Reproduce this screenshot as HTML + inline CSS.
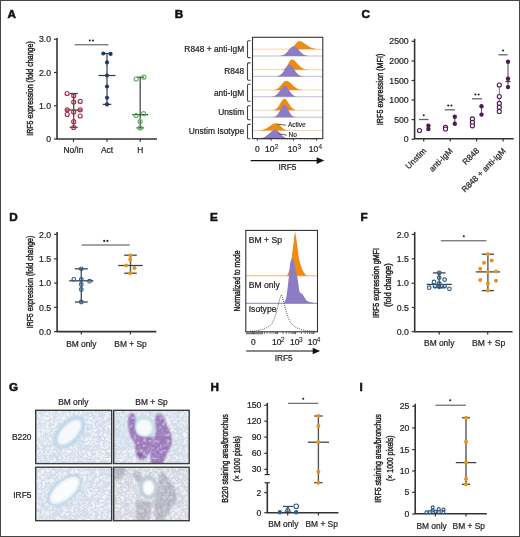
<!DOCTYPE html>
<html><head><meta charset="utf-8"><style>
html,body{margin:0;padding:0;background:#fff;}
body{width:520px;height:537px;overflow:hidden;position:relative;font-family:"Liberation Sans",sans-serif;}
.frame{position:absolute;left:0;top:0;width:518px;height:535px;border:1px solid #444;}
svg{position:absolute;left:0;top:0;display:block;will-change:transform;}
</style></head><body>
<svg width="520" height="537" viewBox="0 0 520 537" font-family="Liberation Sans, sans-serif">
<rect x="0" y="0" width="520" height="537" fill="#fff"/>
<text x="7.4" y="17.6" font-size="11.7" text-anchor="start" font-weight="bold" fill="#111" stroke="#111" stroke-width="0.55">A</text>
<text transform="translate(32.7,88.5) rotate(-90)" font-size="8.6" text-anchor="middle" fill="#231f20" stroke="#231f20" stroke-width="0.42" textLength="94.5" lengthAdjust="spacingAndGlyphs">IRF5 expression (fold change)</text>
<line x1="57" y1="38" x2="57" y2="139" stroke="#333" stroke-width="1.6" />
<line x1="54" y1="39.25" x2="57" y2="39.25" stroke="#333" stroke-width="1.2" />
<text x="51.1" y="42.35" font-size="8.7" text-anchor="end" font-weight="normal" fill="#231f20" stroke="#231f20" stroke-width="0.22" >3.0</text>
<line x1="54" y1="72.5" x2="57" y2="72.5" stroke="#333" stroke-width="1.2" />
<text x="51.1" y="75.6" font-size="8.7" text-anchor="end" font-weight="normal" fill="#231f20" stroke="#231f20" stroke-width="0.22" >2.0</text>
<line x1="54" y1="105.75" x2="57" y2="105.75" stroke="#333" stroke-width="1.2" />
<text x="51.1" y="108.85" font-size="8.7" text-anchor="end" font-weight="normal" fill="#231f20" stroke="#231f20" stroke-width="0.22" >1.0</text>
<line x1="54" y1="139" x2="57" y2="139" stroke="#333" stroke-width="1.2" />
<text x="51.1" y="142.1" font-size="8.7" text-anchor="end" font-weight="normal" fill="#231f20" stroke="#231f20" stroke-width="0.22" >0</text>
<line x1="56.5" y1="139" x2="157" y2="139" stroke="#333" stroke-width="1.6" />
<line x1="73.5" y1="139" x2="73.5" y2="141.8" stroke="#333" stroke-width="1.2" />
<line x1="107" y1="139" x2="107" y2="141.8" stroke="#333" stroke-width="1.2" />
<line x1="140.2" y1="139" x2="140.2" y2="141.8" stroke="#333" stroke-width="1.2" />
<text x="73.5" y="152.7" font-size="8.4" text-anchor="middle" font-weight="normal" fill="#231f20" stroke="#231f20" stroke-width="0.22" >No/In</text>
<text x="107" y="152.7" font-size="8.4" text-anchor="middle" font-weight="normal" fill="#231f20" stroke="#231f20" stroke-width="0.22" >Act</text>
<text x="140.2" y="152.7" font-size="8.4" text-anchor="middle" font-weight="normal" fill="#231f20" stroke="#231f20" stroke-width="0.22" >H</text>
<line x1="74.8" y1="44.8" x2="108.5" y2="44.8" stroke="#4a4a4a" stroke-width="1.0" />
<circle cx="89.80" cy="40.50" r="1.05" fill="#222"/>
<circle cx="93.00" cy="40.50" r="1.05" fill="#222"/>
<line x1="73.7" y1="93.5" x2="73.7" y2="127.3" stroke="#575757" stroke-width="1.4" />
<line x1="69.7" y1="93.5" x2="77.7" y2="93.5" stroke="#3c3c3c" stroke-width="1.25" />
<line x1="69.7" y1="127.3" x2="77.7" y2="127.3" stroke="#3c3c3c" stroke-width="1.25" />
<line x1="65.2" y1="110" x2="82.2" y2="110" stroke="#3c3c3c" stroke-width="1.25" />
<circle cx="67.1" cy="93.5" r="2.0" fill="none" stroke="#ab2f4d" stroke-width="1.2"/>
<circle cx="73.7" cy="95.8" r="2.0" fill="none" stroke="#ab2f4d" stroke-width="1.2"/>
<circle cx="73.7" cy="102.1" r="2.0" fill="none" stroke="#ab2f4d" stroke-width="1.2"/>
<circle cx="80.2" cy="101.4" r="2.0" fill="none" stroke="#ab2f4d" stroke-width="1.2"/>
<circle cx="67.2" cy="109.8" r="2.0" fill="none" stroke="#ab2f4d" stroke-width="1.2"/>
<circle cx="80.2" cy="109.8" r="2.0" fill="none" stroke="#ab2f4d" stroke-width="1.2"/>
<circle cx="73.7" cy="112" r="2.0" fill="none" stroke="#ab2f4d" stroke-width="1.2"/>
<circle cx="67.2" cy="114.5" r="2.0" fill="none" stroke="#ab2f4d" stroke-width="1.2"/>
<circle cx="80.2" cy="116" r="2.0" fill="none" stroke="#ab2f4d" stroke-width="1.2"/>
<circle cx="73.7" cy="121.7" r="2.0" fill="none" stroke="#ab2f4d" stroke-width="1.2"/>
<circle cx="73.7" cy="127.5" r="2.0" fill="none" stroke="#ab2f4d" stroke-width="1.2"/>
<line x1="107" y1="53.5" x2="107" y2="104.4" stroke="#575757" stroke-width="1.4" />
<line x1="102.75" y1="53.5" x2="111.25" y2="53.5" stroke="#3c3c3c" stroke-width="1.25" />
<line x1="102.75" y1="104.4" x2="111.25" y2="104.4" stroke="#3c3c3c" stroke-width="1.25" />
<line x1="98.5" y1="75.5" x2="115.5" y2="75.5" stroke="#3c3c3c" stroke-width="1.25" />
<circle cx="103.3" cy="53.5" r="2.05" fill="#1c3a6e"/>
<circle cx="110.6" cy="53.9" r="2.05" fill="#1c3a6e"/>
<circle cx="107" cy="62.4" r="2.05" fill="#1c3a6e"/>
<circle cx="107" cy="75.5" r="2.05" fill="#1c3a6e"/>
<circle cx="107" cy="86.5" r="2.05" fill="#1c3a6e"/>
<circle cx="107" cy="97.7" r="2.05" fill="#1c3a6e"/>
<circle cx="107" cy="104.4" r="2.05" fill="#1c3a6e"/>
<line x1="140.2" y1="77.2" x2="140.2" y2="127.9" stroke="#575757" stroke-width="1.4" />
<line x1="136.45" y1="77.2" x2="143.95" y2="77.2" stroke="#3c3c3c" stroke-width="1.25" />
<line x1="136.45" y1="127.9" x2="143.95" y2="127.9" stroke="#3c3c3c" stroke-width="1.25" />
<line x1="132.2" y1="114.6" x2="148.2" y2="114.6" stroke="#3c3c3c" stroke-width="1.25" />
<circle cx="136.2" cy="79" r="2.0" fill="none" stroke="#5fb85f" stroke-width="1.2"/>
<circle cx="143.8" cy="77.2" r="2.0" fill="none" stroke="#5fb85f" stroke-width="1.2"/>
<circle cx="136.1" cy="115.5" r="2.0" fill="none" stroke="#5fb85f" stroke-width="1.2"/>
<circle cx="143.6" cy="113.7" r="2.0" fill="none" stroke="#5fb85f" stroke-width="1.2"/>
<circle cx="140.2" cy="121.5" r="2.0" fill="none" stroke="#5fb85f" stroke-width="1.2"/>
<circle cx="140.2" cy="127.9" r="2.0" fill="none" stroke="#5fb85f" stroke-width="1.2"/>
<text x="174.8" y="17.5" font-size="11.7" text-anchor="start" font-weight="bold" fill="#111" stroke="#111" stroke-width="0.55">B</text>
<line x1="252.5" y1="49.2" x2="322.8" y2="49.2" stroke="#f6c88e" stroke-width="0.75" />
<line x1="252.5" y1="56.0" x2="322.8" y2="56.0" stroke="#a9a4c6" stroke-width="0.75" />
<line x1="252.5" y1="69.7" x2="322.8" y2="69.7" stroke="#f6c88e" stroke-width="0.75" />
<line x1="252.5" y1="76.4" x2="322.8" y2="76.4" stroke="#a9a4c6" stroke-width="0.75" />
<line x1="252.5" y1="90.1" x2="322.8" y2="90.1" stroke="#f6c88e" stroke-width="0.75" />
<line x1="252.5" y1="96.8" x2="322.8" y2="96.8" stroke="#a9a4c6" stroke-width="0.75" />
<line x1="252.5" y1="110.3" x2="322.8" y2="110.3" stroke="#f6c88e" stroke-width="0.75" />
<line x1="252.5" y1="117.2" x2="322.8" y2="117.2" stroke="#a9a4c6" stroke-width="0.75" />
<line x1="252.5" y1="130.5" x2="322.8" y2="130.5" stroke="#f6c88e" stroke-width="0.75" />
<line x1="252.5" y1="138.6" x2="322.8" y2="138.6" stroke="#a9a4c6" stroke-width="0.75" />
<clipPath id="cb"><rect x="252.5" y="37.3" width="70.30000000000001" height="101.3"/></clipPath>
<g clip-path="url(#cb)">
<path d="M286.91,49.2 L286.91,49.15 L287.21,49.14 L287.52,49.12 L287.82,49.10 L288.13,49.07 L288.43,49.04 L288.74,49.00 L289.04,48.95 L289.35,48.90 L289.65,48.83 L289.96,48.75 L290.26,48.66 L290.57,48.55 L290.87,48.42 L291.18,48.28 L291.48,48.12 L291.78,47.93 L292.09,47.73 L292.39,47.50 L292.70,47.25 L293.00,46.98 L293.31,46.68 L293.61,46.36 L293.92,46.03 L294.22,45.67 L294.53,45.31 L294.83,44.93 L295.14,44.54 L295.44,44.15 L295.75,43.77 L296.05,43.39 L296.36,43.03 L296.66,42.68 L296.97,42.36 L297.27,42.07 L297.58,41.82 L297.88,41.60 L298.19,41.43 L298.49,41.30 L298.80,41.23 L299.10,41.20 L299.64,41.23 L300.18,41.30 L300.72,41.43 L301.25,41.60 L301.79,41.82 L302.33,42.07 L302.87,42.36 L303.41,42.68 L303.95,43.03 L304.48,43.39 L305.02,43.77 L305.56,44.15 L306.10,44.54 L306.64,44.93 L307.18,45.31 L307.72,45.67 L308.25,46.03 L308.79,46.36 L309.33,46.68 L309.87,46.98 L310.41,47.25 L310.95,47.50 L311.49,47.73 L312.02,47.93 L312.56,48.12 L313.10,48.28 L313.64,48.42 L314.18,48.55 L314.72,48.66 L315.25,48.75 L315.79,48.83 L316.33,48.90 L316.87,48.95 L317.41,49.00 L317.95,49.04 L318.49,49.07 L319.02,49.10 L319.56,49.12 L320.10,49.14 L320.64,49.15 L320.64,49.2 Z" fill="#ef8a12"/>
<path d="M277.95,56.0 L277.95,55.94 L278.35,55.92 L278.74,55.90 L279.14,55.88 L279.54,55.85 L279.93,55.81 L280.33,55.76 L280.72,55.70 L281.12,55.63 L281.52,55.55 L281.91,55.45 L282.31,55.34 L282.71,55.20 L283.10,55.05 L283.50,54.87 L283.89,54.67 L284.29,54.45 L284.69,54.20 L285.08,53.92 L285.48,53.61 L285.88,53.28 L286.27,52.91 L286.67,52.53 L287.06,52.11 L287.46,51.68 L287.86,51.23 L288.25,50.77 L288.65,50.29 L289.05,49.82 L289.44,49.35 L289.84,48.88 L290.23,48.44 L290.63,48.01 L291.03,47.62 L291.42,47.27 L291.82,46.95 L292.22,46.69 L292.61,46.48 L293.01,46.32 L293.40,46.23 L293.80,46.20 L294.21,46.23 L294.61,46.32 L295.02,46.48 L295.43,46.69 L295.83,46.95 L296.24,47.27 L296.64,47.62 L297.05,48.01 L297.46,48.44 L297.86,48.88 L298.27,49.35 L298.68,49.82 L299.08,50.29 L299.49,50.77 L299.90,51.23 L300.30,51.68 L300.71,52.11 L301.12,52.53 L301.52,52.91 L301.93,53.28 L302.33,53.61 L302.74,53.92 L303.15,54.20 L303.55,54.45 L303.96,54.67 L304.37,54.87 L304.77,55.05 L305.18,55.20 L305.59,55.34 L305.99,55.45 L306.40,55.55 L306.80,55.63 L307.21,55.70 L307.62,55.76 L308.02,55.81 L308.43,55.85 L308.84,55.88 L309.24,55.90 L309.65,55.92 L310.06,55.94 L310.06,56.0 Z" fill="#8c7cc4"/>
<path d="M281.13,69.7 L281.13,69.64 L281.40,69.62 L281.66,69.60 L281.93,69.57 L282.19,69.54 L282.45,69.50 L282.72,69.45 L282.98,69.39 L283.25,69.31 L283.51,69.23 L283.78,69.13 L284.04,69.01 L284.30,68.87 L284.57,68.71 L284.83,68.53 L285.10,68.32 L285.36,68.09 L285.62,67.82 L285.89,67.53 L286.15,67.21 L286.42,66.86 L286.68,66.49 L286.95,66.08 L287.21,65.65 L287.47,65.20 L287.74,64.74 L288.00,64.25 L288.27,63.76 L288.53,63.27 L288.79,62.77 L289.06,62.29 L289.32,61.83 L289.59,61.39 L289.85,60.98 L290.12,60.61 L290.38,60.28 L290.64,60.01 L290.91,59.79 L291.17,59.63 L291.44,59.53 L291.70,59.50 L292.15,59.53 L292.59,59.63 L293.04,59.79 L293.49,60.01 L293.94,60.28 L294.38,60.61 L294.83,60.98 L295.28,61.39 L295.72,61.83 L296.17,62.29 L296.62,62.77 L297.06,63.27 L297.51,63.76 L297.96,64.25 L298.41,64.74 L298.85,65.20 L299.30,65.65 L299.75,66.08 L300.19,66.49 L300.64,66.86 L301.09,67.21 L301.53,67.53 L301.98,67.82 L302.43,68.09 L302.88,68.32 L303.32,68.53 L303.77,68.71 L304.22,68.87 L304.66,69.01 L305.11,69.13 L305.56,69.23 L306.01,69.31 L306.45,69.39 L306.90,69.45 L307.35,69.50 L307.79,69.54 L308.24,69.57 L308.69,69.60 L309.13,69.62 L309.58,69.64 L309.58,69.7 Z" fill="#ef8a12"/>
<path d="M274.97,76.4 L274.97,76.33 L275.34,76.31 L275.70,76.28 L276.07,76.25 L276.43,76.21 L276.80,76.17 L277.16,76.11 L277.53,76.04 L277.90,75.95 L278.26,75.86 L278.63,75.74 L278.99,75.60 L279.36,75.44 L279.72,75.26 L280.09,75.04 L280.46,74.80 L280.82,74.53 L281.19,74.23 L281.55,73.89 L281.92,73.52 L282.28,73.12 L282.65,72.68 L283.02,72.22 L283.38,71.72 L283.75,71.20 L284.11,70.66 L284.48,70.10 L284.85,69.53 L285.21,68.96 L285.58,68.39 L285.94,67.83 L286.31,67.29 L286.67,66.79 L287.04,66.31 L287.41,65.88 L287.77,65.51 L288.14,65.19 L288.50,64.93 L288.87,64.75 L289.23,64.64 L289.60,64.60 L289.97,64.64 L290.33,64.75 L290.70,64.93 L291.06,65.19 L291.43,65.51 L291.79,65.88 L292.16,66.31 L292.53,66.79 L292.89,67.29 L293.26,67.83 L293.62,68.39 L293.99,68.96 L294.35,69.53 L294.72,70.10 L295.09,70.66 L295.45,71.20 L295.82,71.72 L296.18,72.22 L296.55,72.68 L296.92,73.12 L297.28,73.52 L297.65,73.89 L298.01,74.23 L298.38,74.53 L298.74,74.80 L299.11,75.04 L299.48,75.26 L299.84,75.44 L300.21,75.60 L300.57,75.74 L300.94,75.86 L301.30,75.95 L301.67,76.04 L302.04,76.11 L302.40,76.17 L302.77,76.21 L303.13,76.25 L303.50,76.28 L303.86,76.31 L304.23,76.33 L304.23,76.4 Z" fill="#8c7cc4"/>
<path d="M271.57,90.1 L271.57,90.05 L271.94,90.03 L272.30,90.01 L272.67,89.98 L273.03,89.95 L273.40,89.92 L273.76,89.87 L274.13,89.82 L274.50,89.75 L274.86,89.68 L275.23,89.58 L275.59,89.48 L275.96,89.35 L276.32,89.21 L276.69,89.04 L277.06,88.85 L277.42,88.64 L277.79,88.41 L278.15,88.14 L278.52,87.86 L278.88,87.54 L279.25,87.20 L279.62,86.84 L279.98,86.45 L280.35,86.04 L280.71,85.62 L281.08,85.19 L281.45,84.74 L281.81,84.30 L282.18,83.85 L282.54,83.42 L282.91,83.00 L283.27,82.60 L283.64,82.24 L284.01,81.90 L284.37,81.61 L284.74,81.36 L285.10,81.16 L285.47,81.02 L285.83,80.93 L286.20,80.90 L286.67,80.93 L287.13,81.02 L287.60,81.16 L288.07,81.36 L288.54,81.61 L289.00,81.90 L289.47,82.24 L289.94,82.60 L290.41,83.00 L290.87,83.42 L291.34,83.85 L291.81,84.30 L292.28,84.74 L292.74,85.19 L293.21,85.62 L293.68,86.04 L294.15,86.45 L294.61,86.84 L295.08,87.20 L295.55,87.54 L296.01,87.86 L296.48,88.14 L296.95,88.41 L297.42,88.64 L297.88,88.85 L298.35,89.04 L298.82,89.21 L299.29,89.35 L299.75,89.48 L300.22,89.58 L300.69,89.68 L301.16,89.75 L301.62,89.82 L302.09,89.87 L302.56,89.92 L303.02,89.95 L303.49,89.98 L303.96,90.01 L304.43,90.03 L304.89,90.05 L304.89,90.1 Z" fill="#ef8a12"/>
<path d="M270.17,96.8 L270.17,96.73 L270.54,96.72 L270.90,96.69 L271.27,96.66 L271.63,96.63 L272.00,96.58 L272.36,96.53 L272.73,96.47 L273.10,96.39 L273.46,96.30 L273.83,96.19 L274.19,96.06 L274.56,95.91 L274.92,95.74 L275.29,95.55 L275.66,95.32 L276.02,95.07 L276.39,94.79 L276.75,94.48 L277.12,94.14 L277.48,93.77 L277.85,93.37 L278.22,92.93 L278.58,92.48 L278.95,92.00 L279.31,91.49 L279.68,90.98 L280.05,90.45 L280.41,89.92 L280.78,89.40 L281.14,88.88 L281.51,88.39 L281.87,87.92 L282.24,87.48 L282.61,87.09 L282.97,86.74 L283.34,86.44 L283.70,86.21 L284.07,86.04 L284.43,85.93 L284.80,85.90 L285.15,85.93 L285.49,86.04 L285.84,86.21 L286.18,86.44 L286.53,86.74 L286.87,87.09 L287.22,87.48 L287.56,87.92 L287.91,88.39 L288.25,88.88 L288.60,89.40 L288.95,89.92 L289.29,90.45 L289.64,90.98 L289.98,91.49 L290.33,92.00 L290.67,92.48 L291.02,92.93 L291.36,93.37 L291.71,93.77 L292.05,94.14 L292.40,94.48 L292.75,94.79 L293.09,95.07 L293.44,95.32 L293.78,95.55 L294.13,95.74 L294.47,95.91 L294.82,96.06 L295.16,96.19 L295.51,96.30 L295.85,96.39 L296.20,96.47 L296.54,96.53 L296.89,96.58 L297.24,96.63 L297.58,96.66 L297.93,96.69 L298.27,96.72 L298.62,96.73 L298.62,96.8 Z" fill="#8c7cc4"/>
<path d="M271.40,110.3 L271.40,110.23 L271.72,110.21 L272.05,110.19 L272.37,110.16 L272.70,110.12 L273.02,110.07 L273.35,110.02 L273.67,109.95 L274.00,109.87 L274.32,109.77 L274.65,109.65 L274.97,109.52 L275.30,109.36 L275.62,109.18 L275.95,108.98 L276.27,108.74 L276.60,108.48 L276.92,108.18 L277.25,107.86 L277.57,107.50 L277.90,107.10 L278.22,106.68 L278.55,106.22 L278.87,105.74 L279.20,105.23 L279.52,104.70 L279.85,104.16 L280.17,103.60 L280.50,103.05 L280.82,102.49 L281.15,101.95 L281.47,101.43 L281.80,100.93 L282.12,100.47 L282.45,100.05 L282.77,99.68 L283.10,99.37 L283.42,99.13 L283.75,98.95 L284.07,98.84 L284.40,98.80 L284.75,98.84 L285.09,98.95 L285.44,99.13 L285.78,99.37 L286.13,99.68 L286.47,100.05 L286.82,100.47 L287.16,100.93 L287.51,101.43 L287.85,101.95 L288.20,102.49 L288.55,103.05 L288.89,103.60 L289.24,104.16 L289.58,104.70 L289.93,105.23 L290.27,105.74 L290.62,106.22 L290.96,106.68 L291.31,107.10 L291.65,107.50 L292.00,107.86 L292.35,108.18 L292.69,108.48 L293.04,108.74 L293.38,108.98 L293.73,109.18 L294.07,109.36 L294.42,109.52 L294.76,109.65 L295.11,109.77 L295.45,109.87 L295.80,109.95 L296.14,110.02 L296.49,110.07 L296.84,110.12 L297.18,110.16 L297.53,110.19 L297.87,110.21 L298.22,110.23 L298.22,110.3 Z" fill="#ef8a12"/>
<path d="M271.80,117.2 L271.80,117.13 L272.12,117.10 L272.43,117.08 L272.75,117.04 L273.06,117.00 L273.38,116.95 L273.69,116.89 L274.01,116.82 L274.32,116.73 L274.64,116.63 L274.95,116.50 L275.27,116.36 L275.58,116.19 L275.90,116.00 L276.21,115.77 L276.53,115.52 L276.84,115.24 L277.16,114.92 L277.47,114.56 L277.79,114.18 L278.10,113.75 L278.42,113.29 L278.73,112.80 L279.05,112.28 L279.36,111.73 L279.68,111.16 L279.99,110.58 L280.31,109.98 L280.62,109.38 L280.94,108.78 L281.25,108.20 L281.57,107.63 L281.88,107.10 L282.20,106.60 L282.51,106.15 L282.83,105.75 L283.14,105.42 L283.46,105.15 L283.77,104.96 L284.09,104.84 L284.40,104.80 L284.70,104.84 L285.01,104.96 L285.31,105.15 L285.62,105.42 L285.92,105.75 L286.23,106.15 L286.53,106.60 L286.84,107.10 L287.14,107.63 L287.45,108.20 L287.75,108.78 L288.06,109.38 L288.36,109.98 L288.67,110.58 L288.97,111.16 L289.28,111.73 L289.58,112.28 L289.89,112.80 L290.19,113.29 L290.50,113.75 L290.80,114.18 L291.11,114.56 L291.41,114.92 L291.72,115.24 L292.02,115.52 L292.32,115.77 L292.63,116.00 L292.93,116.19 L293.24,116.36 L293.54,116.50 L293.85,116.63 L294.15,116.73 L294.46,116.82 L294.76,116.89 L295.07,116.95 L295.37,117.00 L295.68,117.04 L295.98,117.08 L296.29,117.10 L296.59,117.13 L296.59,117.2 Z" fill="#8c7cc4"/>
<path d="M255.98,130.5 L255.98,130.46 L256.49,130.44 L257.00,130.43 L257.50,130.41 L258.01,130.38 L258.52,130.36 L259.03,130.32 L259.54,130.28 L260.04,130.22 L260.55,130.16 L261.06,130.09 L261.57,130.01 L262.08,129.91 L262.58,129.79 L263.09,129.66 L263.60,129.51 L264.11,129.34 L264.62,129.16 L265.12,128.95 L265.63,128.72 L266.14,128.47 L266.65,128.20 L267.16,127.91 L267.66,127.60 L268.17,127.28 L268.68,126.95 L269.19,126.60 L269.70,126.25 L270.20,125.90 L270.71,125.54 L271.22,125.20 L271.73,124.87 L272.24,124.55 L272.74,124.26 L273.25,123.99 L273.76,123.76 L274.27,123.56 L274.78,123.41 L275.28,123.29 L275.79,123.22 L276.30,123.20 L276.65,123.22 L276.99,123.29 L277.34,123.41 L277.68,123.56 L278.03,123.76 L278.37,123.99 L278.72,124.26 L279.06,124.55 L279.41,124.87 L279.75,125.20 L280.10,125.54 L280.45,125.90 L280.79,126.25 L281.14,126.60 L281.48,126.95 L281.83,127.28 L282.17,127.60 L282.52,127.91 L282.86,128.20 L283.21,128.47 L283.55,128.72 L283.90,128.95 L284.25,129.16 L284.59,129.34 L284.94,129.51 L285.28,129.66 L285.63,129.79 L285.97,129.91 L286.32,130.01 L286.66,130.09 L287.01,130.16 L287.35,130.22 L287.70,130.28 L288.04,130.32 L288.39,130.36 L288.74,130.38 L289.08,130.41 L289.43,130.43 L289.77,130.44 L290.12,130.46 L290.12,130.5 Z" fill="#ef8a12"/>
<path d="M256.61,138.6 L256.61,138.55 L257.07,138.53 L257.54,138.51 L258.01,138.49 L258.48,138.46 L258.94,138.43 L259.41,138.38 L259.88,138.33 L260.34,138.27 L260.81,138.19 L261.28,138.11 L261.75,138.00 L262.21,137.88 L262.68,137.75 L263.15,137.59 L263.62,137.41 L264.08,137.21 L264.55,136.98 L265.02,136.73 L265.49,136.45 L265.95,136.15 L266.42,135.83 L266.89,135.48 L267.35,135.11 L267.82,134.72 L268.29,134.32 L268.76,133.90 L269.22,133.48 L269.69,133.05 L270.16,132.63 L270.63,132.21 L271.09,131.81 L271.56,131.43 L272.03,131.08 L272.50,130.76 L272.96,130.48 L273.43,130.24 L273.90,130.05 L274.37,129.91 L274.83,129.83 L275.30,129.80 L275.69,129.83 L276.07,129.91 L276.46,130.05 L276.84,130.24 L277.23,130.48 L277.62,130.76 L278.00,131.08 L278.39,131.43 L278.77,131.81 L279.16,132.21 L279.55,132.63 L279.93,133.05 L280.32,133.48 L280.71,133.90 L281.09,134.32 L281.48,134.72 L281.86,135.11 L282.25,135.48 L282.64,135.83 L283.02,136.15 L283.41,136.45 L283.79,136.73 L284.18,136.98 L284.57,137.21 L284.95,137.41 L285.34,137.59 L285.72,137.75 L286.11,137.88 L286.50,138.00 L286.88,138.11 L287.27,138.19 L287.65,138.27 L288.04,138.33 L288.43,138.38 L288.81,138.43 L289.20,138.46 L289.58,138.49 L289.97,138.51 L290.36,138.53 L290.74,138.55 L290.74,138.6 Z" fill="#8c7cc4"/>
</g>
<rect x="252.5" y="37.3" width="70.30000000000001" height="101.3" fill="none" stroke="#333" stroke-width="1.1"/>
<path d="M250.6,40.8 L248.6,40.8 Q247.5,40.8 247.5,41.9 L247.5,56.5 Q247.5,57.6 248.6,57.6 L250.6,57.6" fill="none" stroke="#444" stroke-width="1.1"/>
<path d="M250.6,62.9 L248.6,62.9 Q247.5,62.9 247.5,64.0 L247.5,79.10000000000001 Q247.5,80.2 248.6,80.2 L250.6,80.2" fill="none" stroke="#444" stroke-width="1.1"/>
<path d="M250.6,84.3 L248.6,84.3 Q247.5,84.3 247.5,85.39999999999999 L247.5,100.2 Q247.5,101.3 248.6,101.3 L250.6,101.3" fill="none" stroke="#444" stroke-width="1.1"/>
<path d="M250.6,105.7 L248.6,105.7 Q247.5,105.7 247.5,106.8 L247.5,118.60000000000001 Q247.5,119.7 248.6,119.7 L250.6,119.7" fill="none" stroke="#444" stroke-width="1.1"/>
<path d="M250.6,124.4 L248.6,124.4 Q247.5,124.4 247.5,125.5 L247.5,137.70000000000002 Q247.5,138.8 248.6,138.8 L250.6,138.8" fill="none" stroke="#444" stroke-width="1.1"/>
<text x="244.2" y="52.2" font-size="8.4" text-anchor="end" font-weight="normal" fill="#231f20" stroke="#231f20" stroke-width="0.22" >R848 + anti-IgM</text>
<text x="244.2" y="73.8" font-size="8.4" text-anchor="end" font-weight="normal" fill="#231f20" stroke="#231f20" stroke-width="0.22" >R848</text>
<text x="244.2" y="95.9" font-size="8.4" text-anchor="end" font-weight="normal" fill="#231f20" stroke="#231f20" stroke-width="0.22" >anti-IgM</text>
<text x="244.2" y="115.3" font-size="8.4" text-anchor="end" font-weight="normal" fill="#231f20" stroke="#231f20" stroke-width="0.22" >Unstim</text>
<text x="244.2" y="134.1" font-size="8.4" text-anchor="end" font-weight="normal" fill="#231f20" stroke="#231f20" stroke-width="0.22" >Unstim Isotype</text>
<line x1="277.5" y1="124.2" x2="285.8" y2="125.2" stroke="#333" stroke-width="0.8" />
<line x1="278.7" y1="133.7" x2="286.8" y2="135.2" stroke="#333" stroke-width="0.8" />
<text x="287.9" y="126.9" font-size="6.5" text-anchor="start" font-weight="normal" fill="#231f20" stroke="#231f20" stroke-width="0.15" >Active</text>
<text x="288.5" y="137.3" font-size="6.5" text-anchor="start" font-weight="normal" fill="#231f20" stroke="#231f20" stroke-width="0.15" >No</text>
<line x1="257.3" y1="138.6" x2="257.3" y2="140.79999999999998" stroke="#333" stroke-width="0.9" />
<line x1="271.2" y1="138.6" x2="271.2" y2="140.79999999999998" stroke="#333" stroke-width="0.9" />
<line x1="293.7" y1="138.6" x2="293.7" y2="140.79999999999998" stroke="#333" stroke-width="0.9" />
<line x1="316.6" y1="138.6" x2="316.6" y2="140.79999999999998" stroke="#333" stroke-width="0.9" />
<line x1="260" y1="138.6" x2="260" y2="139.9" stroke="#555" stroke-width="0.6" />
<line x1="262" y1="138.6" x2="262" y2="139.9" stroke="#555" stroke-width="0.6" />
<line x1="264" y1="138.6" x2="264" y2="139.9" stroke="#555" stroke-width="0.6" />
<line x1="266" y1="138.6" x2="266" y2="139.9" stroke="#555" stroke-width="0.6" />
<line x1="268" y1="138.6" x2="268" y2="139.9" stroke="#555" stroke-width="0.6" />
<line x1="269.5" y1="138.6" x2="269.5" y2="139.9" stroke="#555" stroke-width="0.6" />
<line x1="278" y1="138.6" x2="278" y2="139.9" stroke="#555" stroke-width="0.6" />
<line x1="282" y1="138.6" x2="282" y2="139.9" stroke="#555" stroke-width="0.6" />
<line x1="285" y1="138.6" x2="285" y2="139.9" stroke="#555" stroke-width="0.6" />
<line x1="287.5" y1="138.6" x2="287.5" y2="139.9" stroke="#555" stroke-width="0.6" />
<line x1="289.5" y1="138.6" x2="289.5" y2="139.9" stroke="#555" stroke-width="0.6" />
<line x1="291" y1="138.6" x2="291" y2="139.9" stroke="#555" stroke-width="0.6" />
<line x1="292.5" y1="138.6" x2="292.5" y2="139.9" stroke="#555" stroke-width="0.6" />
<line x1="300.5" y1="138.6" x2="300.5" y2="139.9" stroke="#555" stroke-width="0.6" />
<line x1="304.5" y1="138.6" x2="304.5" y2="139.9" stroke="#555" stroke-width="0.6" />
<line x1="307.5" y1="138.6" x2="307.5" y2="139.9" stroke="#555" stroke-width="0.6" />
<line x1="310" y1="138.6" x2="310" y2="139.9" stroke="#555" stroke-width="0.6" />
<line x1="312" y1="138.6" x2="312" y2="139.9" stroke="#555" stroke-width="0.6" />
<line x1="313.5" y1="138.6" x2="313.5" y2="139.9" stroke="#555" stroke-width="0.6" />
<line x1="315" y1="138.6" x2="315" y2="139.9" stroke="#555" stroke-width="0.6" />
<text x="257.3" y="152.1" font-size="8.4" text-anchor="middle" font-weight="normal" fill="#231f20" stroke="#231f20" stroke-width="0.22" >0</text>
<text x="265" y="152.1" font-size="8.6" text-anchor="start" font-weight="normal" fill="#231f20" stroke="#231f20" stroke-width="0.22" >10</text>
<text x="274.8" y="148.6" font-size="6.4" text-anchor="start" font-weight="normal" fill="#231f20" stroke="#231f20" stroke-width="0.1" >2</text>
<text x="287.8" y="152.1" font-size="8.6" text-anchor="start" font-weight="normal" fill="#231f20" stroke="#231f20" stroke-width="0.22" >10</text>
<text x="297.6" y="148.6" font-size="6.4" text-anchor="start" font-weight="normal" fill="#231f20" stroke="#231f20" stroke-width="0.1" >3</text>
<text x="308.7" y="152.1" font-size="8.6" text-anchor="start" font-weight="normal" fill="#231f20" stroke="#231f20" stroke-width="0.22" >10</text>
<text x="318.5" y="148.6" font-size="6.4" text-anchor="start" font-weight="normal" fill="#231f20" stroke="#231f20" stroke-width="0.1" >4</text>
<line x1="250.7" y1="160.6" x2="318" y2="160.6" stroke="#111" stroke-width="1.1" />
<path d="M324.3,160.6 L316.6,157.3 L316.6,163.9 Z" fill="#111"/>
<text x="278.5" y="170" font-size="8.3" text-anchor="start" font-weight="normal" fill="#231f20" stroke="#231f20" stroke-width="0.22" >IRF5</text>
<text x="361.6" y="17.5" font-size="11.7" text-anchor="start" font-weight="bold" fill="#111" stroke="#111" stroke-width="0.55">C</text>
<text transform="translate(383.2,89.4) rotate(-90)" font-size="8.6" text-anchor="middle" fill="#231f20" stroke="#231f20" stroke-width="0.42" textLength="71.5" lengthAdjust="spacingAndGlyphs">IRF5 expression (MFI)</text>
<line x1="414.6" y1="38.7" x2="414.6" y2="139" stroke="#333" stroke-width="1.6" />
<line x1="411.6" y1="41.3" x2="414.6" y2="41.3" stroke="#333" stroke-width="1.2" />
<text x="408.70000000000005" y="44.4" font-size="8.7" text-anchor="end" font-weight="normal" fill="#231f20" stroke="#231f20" stroke-width="0.22" >2500</text>
<line x1="411.6" y1="61" x2="414.6" y2="61" stroke="#333" stroke-width="1.2" />
<text x="408.70000000000005" y="64.1" font-size="8.7" text-anchor="end" font-weight="normal" fill="#231f20" stroke="#231f20" stroke-width="0.22" >2000</text>
<line x1="411.6" y1="80.5" x2="414.6" y2="80.5" stroke="#333" stroke-width="1.2" />
<text x="408.70000000000005" y="83.6" font-size="8.7" text-anchor="end" font-weight="normal" fill="#231f20" stroke="#231f20" stroke-width="0.22" >1500</text>
<line x1="411.6" y1="100" x2="414.6" y2="100" stroke="#333" stroke-width="1.2" />
<text x="408.70000000000005" y="103.1" font-size="8.7" text-anchor="end" font-weight="normal" fill="#231f20" stroke="#231f20" stroke-width="0.22" >1000</text>
<line x1="411.6" y1="119.6" x2="414.6" y2="119.6" stroke="#333" stroke-width="1.2" />
<text x="408.70000000000005" y="122.69999999999999" font-size="8.7" text-anchor="end" font-weight="normal" fill="#231f20" stroke="#231f20" stroke-width="0.22" >500</text>
<line x1="411.6" y1="139.2" x2="414.6" y2="139.2" stroke="#333" stroke-width="1.2" />
<text x="408.70000000000005" y="142.29999999999998" font-size="8.7" text-anchor="end" font-weight="normal" fill="#231f20" stroke="#231f20" stroke-width="0.22" >0</text>
<line x1="414.1" y1="138.8" x2="513.7" y2="138.8" stroke="#333" stroke-width="1.6" />
<line x1="423.75" y1="138.8" x2="423.75" y2="141.60000000000002" stroke="#333" stroke-width="1.2" />
<line x1="450.2" y1="138.8" x2="450.2" y2="141.60000000000002" stroke="#333" stroke-width="1.2" />
<line x1="476.6" y1="138.8" x2="476.6" y2="141.60000000000002" stroke="#333" stroke-width="1.2" />
<line x1="503.1" y1="138.8" x2="503.1" y2="141.60000000000002" stroke="#333" stroke-width="1.2" />
<text transform="translate(426.8,151.4) rotate(-45)" font-size="8.2" text-anchor="end" fill="#231f20" stroke="#231f20" stroke-width="0.22">Unstim</text>
<text transform="translate(453.3,151.4) rotate(-45)" font-size="8.2" text-anchor="end" fill="#231f20" stroke="#231f20" stroke-width="0.22">anti-IgM</text>
<text transform="translate(479.7,151.4) rotate(-45)" font-size="8.2" text-anchor="end" fill="#231f20" stroke="#231f20" stroke-width="0.22">R848</text>
<text transform="translate(506.3,151.4) rotate(-45)" font-size="8.2" text-anchor="end" fill="#231f20" stroke="#231f20" stroke-width="0.22">R848 + anti-IgM</text>
<line x1="418.9" y1="119.5" x2="428.6" y2="119.5" stroke="#666" stroke-width="1.3" />
<circle cx="423.75" cy="115.20" r="1.05" fill="#222"/>
<line x1="444.8" y1="109.8" x2="454.9" y2="109.8" stroke="#666" stroke-width="1.3" />
<circle cx="448.25" cy="105.50" r="1.05" fill="#222"/>
<circle cx="451.45" cy="105.50" r="1.05" fill="#222"/>
<line x1="472" y1="98.8" x2="482" y2="98.8" stroke="#666" stroke-width="1.3" />
<circle cx="475.40" cy="94.50" r="1.05" fill="#222"/>
<circle cx="478.60" cy="94.50" r="1.05" fill="#222"/>
<line x1="498.4" y1="54.8" x2="507.7" y2="54.8" stroke="#666" stroke-width="1.3" />
<circle cx="503.05" cy="50.50" r="1.05" fill="#222"/>
<line x1="428.4" y1="125.6" x2="428.4" y2="129.5" stroke="#555" stroke-width="1.1" />
<line x1="454.8" y1="116.8" x2="454.8" y2="123.75" stroke="#555" stroke-width="1.1" />
<line x1="481.5" y1="106.2" x2="481.5" y2="114.6" stroke="#555" stroke-width="1.1" />
<line x1="508" y1="61.7" x2="508" y2="87.1" stroke="#555" stroke-width="1.1" />
<line x1="499.3" y1="85" x2="499.3" y2="111.4" stroke="#777" stroke-width="1.0" />
<line x1="505.5" y1="81.6" x2="510.5" y2="81.6" stroke="#333" stroke-width="1.1" />
<circle cx="419.5" cy="130.5" r="2.05" fill="white" stroke="#4e1a55" stroke-width="1.1"/>
<circle cx="445.5" cy="127.3" r="2.05" fill="white" stroke="#4e1a55" stroke-width="1.1"/>
<circle cx="445.5" cy="129" r="2.05" fill="white" stroke="#4e1a55" stroke-width="1.1"/>
<circle cx="472.4" cy="118.9" r="2.05" fill="white" stroke="#4e1a55" stroke-width="1.1"/>
<circle cx="472.4" cy="122.4" r="2.05" fill="white" stroke="#4e1a55" stroke-width="1.1"/>
<circle cx="472.4" cy="125.8" r="2.05" fill="white" stroke="#4e1a55" stroke-width="1.1"/>
<circle cx="499.3" cy="85" r="2.05" fill="white" stroke="#4e1a55" stroke-width="1.1"/>
<circle cx="499.3" cy="96.6" r="2.05" fill="white" stroke="#4e1a55" stroke-width="1.1"/>
<circle cx="499.3" cy="103.4" r="2.05" fill="white" stroke="#4e1a55" stroke-width="1.1"/>
<circle cx="499.3" cy="107.2" r="2.05" fill="white" stroke="#4e1a55" stroke-width="1.1"/>
<circle cx="499.3" cy="111.4" r="2.05" fill="white" stroke="#4e1a55" stroke-width="1.1"/>
<circle cx="428.4" cy="125.6" r="2.2" fill="#4e1a55"/>
<circle cx="428.4" cy="129" r="2.2" fill="#4e1a55"/>
<circle cx="454.8" cy="116.8" r="2.2" fill="#4e1a55"/>
<circle cx="454.8" cy="123.7" r="2.2" fill="#4e1a55"/>
<circle cx="481.5" cy="106.2" r="2.2" fill="#4e1a55"/>
<circle cx="481.5" cy="114.6" r="2.2" fill="#4e1a55"/>
<circle cx="508" cy="61.7" r="2.2" fill="#4e1a55"/>
<circle cx="508" cy="78.7" r="2.2" fill="#4e1a55"/>
<circle cx="508" cy="87.1" r="2.2" fill="#4e1a55"/>
<text x="9.2" y="221.2" font-size="11.7" text-anchor="start" font-weight="bold" fill="#111" stroke="#111" stroke-width="0.55">D</text>
<text transform="translate(32.8,282) rotate(-90)" font-size="8.6" text-anchor="middle" fill="#231f20" stroke="#231f20" stroke-width="0.42" textLength="92.5" lengthAdjust="spacingAndGlyphs">IRF5 expression (fold change)</text>
<line x1="57.1" y1="231.9" x2="57.1" y2="331.6" stroke="#333" stroke-width="1.6" />
<line x1="54.1" y1="234.4" x2="57.1" y2="234.4" stroke="#333" stroke-width="1.2" />
<text x="51.2" y="237.5" font-size="8.7" text-anchor="end" font-weight="normal" fill="#231f20" stroke="#231f20" stroke-width="0.22" >2.0</text>
<line x1="54.1" y1="258.8" x2="57.1" y2="258.8" stroke="#333" stroke-width="1.2" />
<text x="51.2" y="261.90000000000003" font-size="8.7" text-anchor="end" font-weight="normal" fill="#231f20" stroke="#231f20" stroke-width="0.22" >1.5</text>
<line x1="54.1" y1="283.1" x2="57.1" y2="283.1" stroke="#333" stroke-width="1.2" />
<text x="51.2" y="286.20000000000005" font-size="8.7" text-anchor="end" font-weight="normal" fill="#231f20" stroke="#231f20" stroke-width="0.22" >1.0</text>
<line x1="54.1" y1="307.4" x2="57.1" y2="307.4" stroke="#333" stroke-width="1.2" />
<text x="51.2" y="310.5" font-size="8.7" text-anchor="end" font-weight="normal" fill="#231f20" stroke="#231f20" stroke-width="0.22" >0.5</text>
<line x1="54.1" y1="331.6" x2="57.1" y2="331.6" stroke="#333" stroke-width="1.2" />
<text x="51.2" y="334.70000000000005" font-size="8.7" text-anchor="end" font-weight="normal" fill="#231f20" stroke="#231f20" stroke-width="0.22" >0.0</text>
<line x1="56.5" y1="331.6" x2="156.3" y2="331.6" stroke="#333" stroke-width="1.6" />
<line x1="81.3" y1="331.6" x2="81.3" y2="334.40000000000003" stroke="#333" stroke-width="1.2" />
<line x1="130.5" y1="331.6" x2="130.5" y2="334.40000000000003" stroke="#333" stroke-width="1.2" />
<text x="81.3" y="346.6" font-size="8.4" text-anchor="middle" font-weight="normal" fill="#231f20" stroke="#231f20" stroke-width="0.22" >BM only</text>
<text x="130.5" y="346.6" font-size="8.4" text-anchor="middle" font-weight="normal" fill="#231f20" stroke="#231f20" stroke-width="0.22" >BM + Sp</text>
<line x1="81.6" y1="245.0" x2="129.7" y2="245.0" stroke="#4a4a4a" stroke-width="1.0" />
<circle cx="104.20" cy="240.90" r="1.05" fill="#222"/>
<circle cx="107.40" cy="240.90" r="1.05" fill="#222"/>
<line x1="81.3" y1="268.8" x2="81.3" y2="302" stroke="#575757" stroke-width="1.4" />
<line x1="74.8" y1="268.8" x2="87.8" y2="268.8" stroke="#3c3c3c" stroke-width="1.25" />
<line x1="74.8" y1="302" x2="87.8" y2="302" stroke="#3c3c3c" stroke-width="1.25" />
<line x1="69.14999999999999" y1="280.8" x2="93.45" y2="280.8" stroke="#3c3c3c" stroke-width="1.25" />
<circle cx="81.3" cy="268.8" r="1.8" fill="none" stroke="#2e5f8c" stroke-width="1.2"/>
<circle cx="73.8" cy="279.3" r="1.8" fill="none" stroke="#2e5f8c" stroke-width="1.2"/>
<circle cx="81.3" cy="279.5" r="1.8" fill="none" stroke="#2e5f8c" stroke-width="1.2"/>
<circle cx="89.5" cy="281.2" r="1.8" fill="none" stroke="#2e5f8c" stroke-width="1.2"/>
<circle cx="81.3" cy="284.5" r="1.8" fill="none" stroke="#2e5f8c" stroke-width="1.2"/>
<circle cx="81.3" cy="289.5" r="1.8" fill="none" stroke="#2e5f8c" stroke-width="1.2"/>
<circle cx="81.3" cy="302" r="1.8" fill="none" stroke="#2e5f8c" stroke-width="1.2"/>
<line x1="130.5" y1="255.2" x2="130.5" y2="273.2" stroke="#575757" stroke-width="1.4" />
<line x1="124.25" y1="255.2" x2="136.75" y2="255.2" stroke="#3c3c3c" stroke-width="1.25" />
<line x1="124.25" y1="273.2" x2="136.75" y2="273.2" stroke="#3c3c3c" stroke-width="1.25" />
<line x1="118.25" y1="265.5" x2="142.75" y2="265.5" stroke="#3c3c3c" stroke-width="1.25" />
<circle cx="130.5" cy="255.4" r="2.0" fill="#e8921e"/>
<circle cx="130.2" cy="259.6" r="2.0" fill="#e8921e"/>
<circle cx="126.2" cy="265.5" r="2.0" fill="#e8921e"/>
<circle cx="134.5" cy="268" r="2.0" fill="#e8921e"/>
<circle cx="130.2" cy="273.2" r="2.0" fill="#e8921e"/>
<text x="209.9" y="221.2" font-size="11.7" text-anchor="start" font-weight="bold" fill="#111" stroke="#111" stroke-width="0.55">E</text>
<text transform="translate(239.7,281) rotate(-90)" font-size="9.4" text-anchor="middle" fill="#231f20" stroke="#231f20" stroke-width="0.42" textLength="61.2" lengthAdjust="spacingAndGlyphs">Normalized to mode</text>
<line x1="245.8" y1="275.8" x2="317.5" y2="275.8" stroke="#f4b468" stroke-width="1.0" />
<line x1="245.8" y1="303.3" x2="317.5" y2="303.3" stroke="#8f88b8" stroke-width="1.0" />
<path d="M285.8,275.8 L285.8,276 L286.8,275.4 L287.7,274.2 L289.9,269.7 L290.8,264 L291.7,257.8 L292.7,250 L293.6,242.9 L294.4,236 L295.1,231.3 L295.9,236 L297,242.9 L297.9,250.5 L298.8,257.8 L300.2,263.5 L301.8,268.2 L304,272.7 L305.8,275 L307.8,276 L307.8,275.8 Z" fill="#ef8a12"/>
<path d="M283.5,303.3 L283.5,303.3 L284.2,302.5 L285.2,300.5 L286.2,298 L287,293 L287.7,287.6 L288.5,280 L289.2,272.7 L289.9,265.3 L290.6,261.5 L291.6,259.2 L292.6,258.6 L293.3,259.5 L294,261.5 L294.8,265.5 L295.5,270 L296.4,274 L297.4,277.2 L298.2,282.5 L298.8,287.6 L299.6,292 L301,293.2 L302.6,294.3 L304.8,298 L307,301 L309.5,302 L312,302.6 L315.2,303.3 L315.2,303.3 Z" fill="#8c7cc4"/>
<path d="M250,331.2 L256.5,330.9 L262.3,329.7 L266.6,327.6 L268.5,326.5 L270.3,325.4 L271.8,323.8 L273.1,321 L274.6,317.8 L276,313.9 L277.3,308.5 L278.5,303.8 L279.8,298.5 L281.4,294.8 L282.9,298.8 L284.2,303.8 L285.5,309 L286.8,313.9 L288.3,317.8 L289.7,321 L291.8,324 L294,326.1 L297,328 L299.8,329 L302.7,329.9 L305.6,330.5 L310,331 L316,331.3" fill="none" stroke="#555" stroke-width="1.0" stroke-dasharray="1,1.1"/>
<rect x="245.8" y="230.4" width="71.69999999999999" height="101.4" fill="none" stroke="#333" stroke-width="1.1"/>
<text x="248.7" y="242.6" font-size="8.65" text-anchor="start" font-weight="normal" fill="#231f20" stroke="#231f20" stroke-width="0.22" >BM + Sp</text>
<text x="248.7" y="287.6" font-size="8.65" text-anchor="start" font-weight="normal" fill="#231f20" stroke="#231f20" stroke-width="0.22" >BM only</text>
<text x="248.7" y="312.2" font-size="8.65" text-anchor="start" font-weight="normal" fill="#231f20" stroke="#231f20" stroke-width="0.22" >Isotype</text>
<line x1="253" y1="331.8" x2="253" y2="334.1" stroke="#333" stroke-width="0.9" />
<line x1="277.3" y1="331.8" x2="277.3" y2="334.1" stroke="#333" stroke-width="0.9" />
<line x1="295.6" y1="331.8" x2="295.6" y2="334.1" stroke="#333" stroke-width="0.9" />
<line x1="313.9" y1="331.8" x2="313.9" y2="334.1" stroke="#333" stroke-width="0.9" />
<rect x="246" y="332.3" width="16.5" height="2.0" fill="#444" opacity="0.7"/>
<line x1="262.5" y1="331.8" x2="262.5" y2="334.0" stroke="#555" stroke-width="0.7" />
<line x1="264.5" y1="331.8" x2="264.5" y2="334.0" stroke="#555" stroke-width="0.7" />
<line x1="267" y1="331.8" x2="267" y2="334.0" stroke="#555" stroke-width="0.7" />
<line x1="270" y1="331.8" x2="270" y2="334.0" stroke="#555" stroke-width="0.7" />
<line x1="272" y1="331.8" x2="272" y2="334.0" stroke="#555" stroke-width="0.7" />
<line x1="274" y1="331.8" x2="274" y2="334.0" stroke="#555" stroke-width="0.7" />
<line x1="275.5" y1="331.8" x2="275.5" y2="334.0" stroke="#555" stroke-width="0.7" />
<line x1="276.5" y1="331.8" x2="276.5" y2="334.0" stroke="#555" stroke-width="0.7" />
<line x1="283" y1="331.8" x2="283" y2="334.0" stroke="#555" stroke-width="0.7" />
<line x1="286.5" y1="331.8" x2="286.5" y2="334.0" stroke="#555" stroke-width="0.7" />
<line x1="289" y1="331.8" x2="289" y2="334.0" stroke="#555" stroke-width="0.7" />
<line x1="291" y1="331.8" x2="291" y2="334.0" stroke="#555" stroke-width="0.7" />
<line x1="292.5" y1="331.8" x2="292.5" y2="334.0" stroke="#555" stroke-width="0.7" />
<line x1="293.7" y1="331.8" x2="293.7" y2="334.0" stroke="#555" stroke-width="0.7" />
<line x1="294.7" y1="331.8" x2="294.7" y2="334.0" stroke="#555" stroke-width="0.7" />
<line x1="301.5" y1="331.8" x2="301.5" y2="334.0" stroke="#555" stroke-width="0.7" />
<line x1="305" y1="331.8" x2="305" y2="334.0" stroke="#555" stroke-width="0.7" />
<line x1="307.5" y1="331.8" x2="307.5" y2="334.0" stroke="#555" stroke-width="0.7" />
<line x1="309.5" y1="331.8" x2="309.5" y2="334.0" stroke="#555" stroke-width="0.7" />
<line x1="311" y1="331.8" x2="311" y2="334.0" stroke="#555" stroke-width="0.7" />
<line x1="312" y1="331.8" x2="312" y2="334.0" stroke="#555" stroke-width="0.7" />
<line x1="313" y1="331.8" x2="313" y2="334.0" stroke="#555" stroke-width="0.7" />
<text x="253.4" y="345.3" font-size="8.4" text-anchor="middle" font-weight="normal" fill="#231f20" stroke="#231f20" stroke-width="0.22" >0</text>
<text x="271.9" y="345.3" font-size="8.6" text-anchor="start" font-weight="normal" fill="#231f20" stroke="#231f20" stroke-width="0.22" >10</text>
<text x="280.9" y="341.8" font-size="6.4" text-anchor="start" font-weight="normal" fill="#231f20" stroke="#231f20" stroke-width="0.1" >2</text>
<text x="289.9" y="345.3" font-size="8.6" text-anchor="start" font-weight="normal" fill="#231f20" stroke="#231f20" stroke-width="0.22" >10</text>
<text x="298.9" y="341.8" font-size="6.4" text-anchor="start" font-weight="normal" fill="#231f20" stroke="#231f20" stroke-width="0.1" >3</text>
<text x="307.8" y="345.3" font-size="8.6" text-anchor="start" font-weight="normal" fill="#231f20" stroke="#231f20" stroke-width="0.22" >10</text>
<text x="316.8" y="341.8" font-size="6.4" text-anchor="start" font-weight="normal" fill="#231f20" stroke="#231f20" stroke-width="0.1" >4</text>
<line x1="246.2" y1="351" x2="314" y2="351" stroke="#111" stroke-width="1.1" />
<path d="M320.1,351 L312.7,347.7 L312.7,354.3 Z" fill="#111"/>
<text x="274.7" y="360.9" font-size="8.3" text-anchor="start" font-weight="normal" fill="#231f20" stroke="#231f20" stroke-width="0.22" >IRF5</text>
<text x="360.6" y="221.2" font-size="11.7" text-anchor="start" font-weight="bold" fill="#111" stroke="#111" stroke-width="0.55">F</text>
<text transform="translate(378.6,283.1) rotate(-90)" font-size="8.4" text-anchor="middle" fill="#231f20" stroke="#231f20" stroke-width="0.42" textLength="70" lengthAdjust="spacingAndGlyphs">IRF5 expression gMFI</text>
<text transform="translate(390.9,285.1) rotate(-90)" font-size="8.4" text-anchor="middle" fill="#231f20" stroke="#231f20" stroke-width="0.42" textLength="43.5" lengthAdjust="spacingAndGlyphs">(fold change)</text>
<line x1="414.7" y1="231.9" x2="414.7" y2="331.7" stroke="#333" stroke-width="1.6" />
<line x1="411.7" y1="234.4" x2="414.7" y2="234.4" stroke="#333" stroke-width="1.2" />
<text x="408.8" y="237.5" font-size="8.7" text-anchor="end" font-weight="normal" fill="#231f20" stroke="#231f20" stroke-width="0.22" >2.0</text>
<line x1="411.7" y1="258.8" x2="414.7" y2="258.8" stroke="#333" stroke-width="1.2" />
<text x="408.8" y="261.90000000000003" font-size="8.7" text-anchor="end" font-weight="normal" fill="#231f20" stroke="#231f20" stroke-width="0.22" >1.5</text>
<line x1="411.7" y1="283.2" x2="414.7" y2="283.2" stroke="#333" stroke-width="1.2" />
<text x="408.8" y="286.3" font-size="8.7" text-anchor="end" font-weight="normal" fill="#231f20" stroke="#231f20" stroke-width="0.22" >1.0</text>
<line x1="411.7" y1="307.5" x2="414.7" y2="307.5" stroke="#333" stroke-width="1.2" />
<text x="408.8" y="310.6" font-size="8.7" text-anchor="end" font-weight="normal" fill="#231f20" stroke="#231f20" stroke-width="0.22" >0.5</text>
<line x1="411.7" y1="331.7" x2="414.7" y2="331.7" stroke="#333" stroke-width="1.2" />
<text x="408.8" y="334.8" font-size="8.7" text-anchor="end" font-weight="normal" fill="#231f20" stroke="#231f20" stroke-width="0.22" >0.0</text>
<line x1="414.2" y1="331.7" x2="512.5" y2="331.7" stroke="#333" stroke-width="1.6" />
<line x1="439.2" y1="331.7" x2="439.2" y2="334.5" stroke="#333" stroke-width="1.2" />
<line x1="487.7" y1="331.7" x2="487.7" y2="334.5" stroke="#333" stroke-width="1.2" />
<text x="439.2" y="345.5" font-size="8.4" text-anchor="middle" font-weight="normal" fill="#231f20" stroke="#231f20" stroke-width="0.22" >BM only</text>
<text x="488.6" y="345.5" font-size="8.6" text-anchor="middle" font-weight="normal" fill="#231f20" stroke="#231f20" stroke-width="0.22" >BM + Sp</text>
<line x1="440.8" y1="240.8" x2="486.5" y2="240.8" stroke="#4a4a4a" stroke-width="1.0" />
<circle cx="463.80" cy="236.30" r="1.05" fill="#222"/>
<line x1="439.2" y1="272.9" x2="439.2" y2="287.3" stroke="#575757" stroke-width="1.4" />
<line x1="432.9" y1="272.9" x2="445.5" y2="272.9" stroke="#3c3c3c" stroke-width="1.25" />
<line x1="432.9" y1="287.3" x2="445.5" y2="287.3" stroke="#3c3c3c" stroke-width="1.25" />
<line x1="426.7" y1="284.4" x2="451.7" y2="284.4" stroke="#3c3c3c" stroke-width="1.25" />
<circle cx="439.2" cy="272.9" r="1.8" fill="none" stroke="#2e5f8c" stroke-width="1.2"/>
<circle cx="439.2" cy="277.7" r="1.8" fill="none" stroke="#2e5f8c" stroke-width="1.2"/>
<circle cx="434" cy="282" r="1.8" fill="none" stroke="#2e5f8c" stroke-width="1.2"/>
<circle cx="444.6" cy="279.6" r="1.8" fill="none" stroke="#2e5f8c" stroke-width="1.2"/>
<circle cx="429.2" cy="287.7" r="1.8" fill="none" stroke="#2e5f8c" stroke-width="1.2"/>
<circle cx="435" cy="286.3" r="1.8" fill="none" stroke="#2e5f8c" stroke-width="1.2"/>
<circle cx="439.2" cy="286.8" r="1.8" fill="none" stroke="#2e5f8c" stroke-width="1.2"/>
<circle cx="442" cy="286.3" r="1.8" fill="none" stroke="#2e5f8c" stroke-width="1.2"/>
<circle cx="444.6" cy="286.3" r="1.8" fill="none" stroke="#2e5f8c" stroke-width="1.2"/>
<circle cx="449.4" cy="288.8" r="1.8" fill="none" stroke="#2e5f8c" stroke-width="1.2"/>
<circle cx="439.2" cy="283.5" r="1.8" fill="none" stroke="#2e5f8c" stroke-width="1.2"/>
<line x1="487.9" y1="254.2" x2="487.9" y2="290.6" stroke="#575757" stroke-width="1.4" />
<line x1="481.79999999999995" y1="254.2" x2="494.0" y2="254.2" stroke="#3c3c3c" stroke-width="1.25" />
<line x1="481.79999999999995" y1="290.6" x2="494.0" y2="290.6" stroke="#3c3c3c" stroke-width="1.25" />
<line x1="475.79999999999995" y1="271.9" x2="500.0" y2="271.9" stroke="#3c3c3c" stroke-width="1.25" />
<circle cx="487.9" cy="254.2" r="2.0" fill="#e8921e"/>
<circle cx="484" cy="262.7" r="2.0" fill="#e8921e"/>
<circle cx="491.7" cy="260.4" r="2.0" fill="#e8921e"/>
<circle cx="480.2" cy="268.7" r="2.0" fill="#e8921e"/>
<circle cx="487.9" cy="271.9" r="2.0" fill="#e8921e"/>
<circle cx="496" cy="271.5" r="2.0" fill="#e8921e"/>
<circle cx="480.2" cy="280" r="2.0" fill="#e8921e"/>
<circle cx="496" cy="280.8" r="2.0" fill="#e8921e"/>
<circle cx="487.9" cy="283.5" r="2.0" fill="#e8921e"/>
<circle cx="487.9" cy="290.6" r="2.0" fill="#e8921e"/>
<text x="210.4" y="390.8" font-size="11.7" text-anchor="start" font-weight="bold" fill="#111" stroke="#111" stroke-width="0.55">H</text>
<text transform="translate(227.6,458.4) rotate(-90)" font-size="8.4" text-anchor="middle" fill="#231f20" stroke="#231f20" stroke-width="0.42" textLength="88.5" lengthAdjust="spacingAndGlyphs">B220 staining area/bronchus</text>
<text transform="translate(239.6,458.8) rotate(-90)" font-size="8.4" text-anchor="middle" fill="#231f20" stroke="#231f20" stroke-width="0.42" textLength="45.5" lengthAdjust="spacingAndGlyphs">(× 1000 pixels)</text>
<line x1="267.3" y1="402.9" x2="267.3" y2="474.6" stroke="#333" stroke-width="1.6" />
<line x1="264.3" y1="405.2" x2="267.3" y2="405.2" stroke="#333" stroke-width="1.2" />
<text x="261.4" y="408.3" font-size="8.7" text-anchor="end" font-weight="normal" fill="#231f20" stroke="#231f20" stroke-width="0.22" >150</text>
<line x1="264.3" y1="421.2" x2="267.3" y2="421.2" stroke="#333" stroke-width="1.2" />
<text x="261.4" y="424.3" font-size="8.7" text-anchor="end" font-weight="normal" fill="#231f20" stroke="#231f20" stroke-width="0.22" >120</text>
<line x1="264.3" y1="437.1" x2="267.3" y2="437.1" stroke="#333" stroke-width="1.2" />
<text x="261.4" y="440.20000000000005" font-size="8.7" text-anchor="end" font-weight="normal" fill="#231f20" stroke="#231f20" stroke-width="0.22" >90</text>
<line x1="264.3" y1="453.3" x2="267.3" y2="453.3" stroke="#333" stroke-width="1.2" />
<text x="261.4" y="456.40000000000003" font-size="8.7" text-anchor="end" font-weight="normal" fill="#231f20" stroke="#231f20" stroke-width="0.22" >60</text>
<line x1="264.3" y1="469.3" x2="267.3" y2="469.3" stroke="#333" stroke-width="1.2" />
<text x="261.4" y="472.40000000000003" font-size="8.7" text-anchor="end" font-weight="normal" fill="#231f20" stroke="#231f20" stroke-width="0.22" >30</text>
<line x1="264.6" y1="474.6" x2="269.8" y2="474.6" stroke="#333" stroke-width="1.2" />
<line x1="267.3" y1="482.7" x2="267.3" y2="512.7" stroke="#333" stroke-width="1.6" />
<line x1="264.6" y1="482.7" x2="269.8" y2="482.7" stroke="#333" stroke-width="1.2" />
<line x1="264.3" y1="492.6" x2="267.3" y2="492.6" stroke="#333" stroke-width="1.2" />
<text x="261.4" y="495.70000000000005" font-size="8.7" text-anchor="end" font-weight="normal" fill="#231f20" stroke="#231f20" stroke-width="0.22" >2</text>
<line x1="264.3" y1="512.7" x2="267.3" y2="512.7" stroke="#333" stroke-width="1.2" />
<text x="261.4" y="515.8000000000001" font-size="8.7" text-anchor="end" font-weight="normal" fill="#231f20" stroke="#231f20" stroke-width="0.22" >0</text>
<line x1="266.8" y1="512.7" x2="338.5" y2="512.7" stroke="#333" stroke-width="1.6" />
<line x1="287.7" y1="512.7" x2="287.7" y2="515.5" stroke="#333" stroke-width="1.2" />
<line x1="318.4" y1="512.7" x2="318.4" y2="515.5" stroke="#333" stroke-width="1.2" />
<text x="283.3" y="526.6" font-size="8.4" text-anchor="middle" font-weight="normal" fill="#231f20" stroke="#231f20" stroke-width="0.22" >BM only</text>
<text x="321.7" y="526.6" font-size="8.4" text-anchor="middle" font-weight="normal" fill="#231f20" stroke="#231f20" stroke-width="0.22" >BM + Sp</text>
<line x1="288.1" y1="403.3" x2="318.3" y2="403.3" stroke="#4a4a4a" stroke-width="1.0" />
<circle cx="303.20" cy="398.80" r="1.05" fill="#222"/>
<line x1="318.4" y1="416" x2="318.4" y2="482.7" stroke="#575757" stroke-width="1.4" />
<line x1="314.2" y1="416" x2="322.59999999999997" y2="416" stroke="#3c3c3c" stroke-width="1.25" />
<line x1="314.2" y1="482.7" x2="322.59999999999997" y2="482.7" stroke="#3c3c3c" stroke-width="1.25" />
<line x1="307.79999999999995" y1="442.2" x2="329.0" y2="442.2" stroke="#3c3c3c" stroke-width="1.25" />
<circle cx="318.4" cy="416" r="2.0" fill="#e8921e"/>
<circle cx="318.4" cy="426" r="2.0" fill="#e8921e"/>
<circle cx="318.4" cy="442.2" r="2.0" fill="#e8921e"/>
<circle cx="318.4" cy="471.8" r="2.0" fill="#e8921e"/>
<circle cx="318.4" cy="482.7" r="2.0" fill="#e8921e"/>
<line x1="287.8" y1="506.4" x2="287.8" y2="512.5" stroke="#3c3c3c" stroke-width="1.1" />
<line x1="283" y1="506.4" x2="293" y2="506.4" stroke="#3c3c3c" stroke-width="1.1" />
<circle cx="279.8" cy="512.3" r="2.2" fill="#2e5f8c"/>
<circle cx="296.2" cy="512.3" r="2.2" fill="#2e5f8c"/>
<path d="M287.8,506.8 L290.4,511.2 L285.2,511.2 Z" fill="none" stroke="#2e5f8c" stroke-width="1.1"/>
<circle cx="296.2" cy="506.3" r="2.3" fill="white" stroke="#2e5f8c" stroke-width="1.1"/>
<text x="359.6" y="390.8" font-size="11.7" text-anchor="start" font-weight="bold" fill="#111" stroke="#111" stroke-width="0.55">I</text>
<text transform="translate(380.9,458.4) rotate(-90)" font-size="8.4" text-anchor="middle" fill="#231f20" stroke="#231f20" stroke-width="0.42" textLength="88.5" lengthAdjust="spacingAndGlyphs">IRF5 staining area/bronchus</text>
<text transform="translate(393.4,458.2) rotate(-90)" font-size="8.4" text-anchor="middle" fill="#231f20" stroke="#231f20" stroke-width="0.42" textLength="45.5" lengthAdjust="spacingAndGlyphs">(× 1000 pixels)</text>
<line x1="415.2" y1="403.8" x2="415.2" y2="514" stroke="#333" stroke-width="1.6" />
<line x1="412.2" y1="406.2" x2="415.2" y2="406.2" stroke="#333" stroke-width="1.2" />
<text x="409.3" y="409.3" font-size="8.7" text-anchor="end" font-weight="normal" fill="#231f20" stroke="#231f20" stroke-width="0.22" >25</text>
<line x1="412.2" y1="427.9" x2="415.2" y2="427.9" stroke="#333" stroke-width="1.2" />
<text x="409.3" y="431.0" font-size="8.7" text-anchor="end" font-weight="normal" fill="#231f20" stroke="#231f20" stroke-width="0.22" >20</text>
<line x1="412.2" y1="449.6" x2="415.2" y2="449.6" stroke="#333" stroke-width="1.2" />
<text x="409.3" y="452.70000000000005" font-size="8.7" text-anchor="end" font-weight="normal" fill="#231f20" stroke="#231f20" stroke-width="0.22" >15</text>
<line x1="412.2" y1="471" x2="415.2" y2="471" stroke="#333" stroke-width="1.2" />
<text x="409.3" y="474.1" font-size="8.7" text-anchor="end" font-weight="normal" fill="#231f20" stroke="#231f20" stroke-width="0.22" >10</text>
<line x1="412.2" y1="492.3" x2="415.2" y2="492.3" stroke="#333" stroke-width="1.2" />
<text x="409.3" y="495.40000000000003" font-size="8.7" text-anchor="end" font-weight="normal" fill="#231f20" stroke="#231f20" stroke-width="0.22" >5</text>
<line x1="412.2" y1="514" x2="415.2" y2="514" stroke="#333" stroke-width="1.2" />
<text x="409.3" y="517.1" font-size="8.7" text-anchor="end" font-weight="normal" fill="#231f20" stroke="#231f20" stroke-width="0.22" >0</text>
<line x1="414.7" y1="513.7" x2="486.8" y2="513.7" stroke="#333" stroke-width="1.6" />
<line x1="435.4" y1="513.7" x2="435.4" y2="516.5" stroke="#333" stroke-width="1.2" />
<line x1="466" y1="513.7" x2="466" y2="516.5" stroke="#333" stroke-width="1.2" />
<text x="431.6" y="528.6" font-size="8.4" text-anchor="middle" font-weight="normal" fill="#231f20" stroke="#231f20" stroke-width="0.22" >BM only</text>
<text x="468.8" y="528.6" font-size="8.4" text-anchor="middle" font-weight="normal" fill="#231f20" stroke="#231f20" stroke-width="0.22" >BM + Sp</text>
<line x1="435.4" y1="405.2" x2="466" y2="405.2" stroke="#4a4a4a" stroke-width="1.0" />
<circle cx="450.20" cy="400.20" r="1.05" fill="#222"/>
<line x1="466" y1="417.8" x2="466" y2="484.3" stroke="#575757" stroke-width="1.4" />
<line x1="462.0" y1="417.8" x2="470.0" y2="417.8" stroke="#3c3c3c" stroke-width="1.25" />
<line x1="462.0" y1="484.3" x2="470.0" y2="484.3" stroke="#3c3c3c" stroke-width="1.25" />
<line x1="455.75" y1="462.6" x2="476.25" y2="462.6" stroke="#3c3c3c" stroke-width="1.25" />
<circle cx="466" cy="417.8" r="2.0" fill="#e8921e"/>
<circle cx="466" cy="441.8" r="2.0" fill="#e8921e"/>
<circle cx="466" cy="462.6" r="2.0" fill="#e8921e"/>
<circle cx="466" cy="478.9" r="2.0" fill="#e8921e"/>
<circle cx="466" cy="484.3" r="2.0" fill="#e8921e"/>
<line x1="428" y1="510.8" x2="445" y2="510.8" stroke="#3c3c3c" stroke-width="0.8" />
<circle cx="426.5" cy="512.3" r="1.5" fill="none" stroke="#2e5f8c" stroke-width="1.2"/>
<circle cx="430" cy="512" r="1.5" fill="none" stroke="#2e5f8c" stroke-width="1.2"/>
<circle cx="432.7" cy="507.3" r="1.5" fill="none" stroke="#2e5f8c" stroke-width="1.2"/>
<circle cx="432.7" cy="510.4" r="1.5" fill="none" stroke="#2e5f8c" stroke-width="1.2"/>
<circle cx="435.4" cy="511.5" r="1.5" fill="none" stroke="#2e5f8c" stroke-width="1.2"/>
<circle cx="438.8" cy="509.2" r="1.5" fill="none" stroke="#2e5f8c" stroke-width="1.2"/>
<circle cx="438.8" cy="512" r="1.5" fill="none" stroke="#2e5f8c" stroke-width="1.2"/>
<circle cx="443.5" cy="509.6" r="1.5" fill="none" stroke="#2e5f8c" stroke-width="1.2"/>
<circle cx="443.5" cy="512.3" r="1.5" fill="none" stroke="#2e5f8c" stroke-width="1.2"/>
<text x="9.0" y="390.8" font-size="11.7" text-anchor="start" font-weight="bold" fill="#111" stroke="#111" stroke-width="0.55">G</text>
<text x="73.3" y="405.2" font-size="8.4" text-anchor="middle" font-weight="normal" fill="#231f20" stroke="#231f20" stroke-width="0.22" >BM only</text>
<text x="151.5" y="405.2" font-size="8.4" text-anchor="middle" font-weight="normal" fill="#231f20" stroke="#231f20" stroke-width="0.22" >BM + Sp</text>
<text x="11.9" y="440.0" font-size="8.4" text-anchor="start" font-weight="normal" fill="#231f20" stroke="#231f20" stroke-width="0.22" >B220</text>
<text x="13.3" y="497.5" font-size="8.4" text-anchor="start" font-weight="normal" fill="#231f20" stroke="#231f20" stroke-width="0.22" >IRF5</text>
<defs>
<filter id="tex" x="0" y="0" width="100%" height="100%" color-interpolation-filters="sRGB">
 <feTurbulence type="fractalNoise" baseFrequency="0.24" numOctaves="3" seed="9" result="n"/>
 <feComponentTransfer in="n" result="m"><feFuncR type="table" tableValues="0 0 0 0.25 1 0.25 0 0 0"/></feComponentTransfer>
 <feColorMatrix in="m" type="matrix" values="0 0 0 0 0.60  0 0 0 0 0.68  0 0 0 0 0.82  0.4 0 0 0 0" result="c"/>
 <feGaussianBlur in="c" stdDeviation="0.4"/>
</filter>
<filter id="tex2" x="0" y="0" width="100%" height="100%" color-interpolation-filters="sRGB">
 <feTurbulence type="fractalNoise" baseFrequency="0.24" numOctaves="3" seed="13" result="n"/>
 <feComponentTransfer in="n" result="m"><feFuncR type="table" tableValues="0 0 0 0.25 1 0.25 0 0 0"/></feComponentTransfer>
 <feColorMatrix in="m" type="matrix" values="0 0 0 0 0.58  0 0 0 0 0.60  0 0 0 0 0.70  0.36 0 0 0 0" result="c"/>
 <feGaussianBlur in="c" stdDeviation="0.4"/>
</filter>
<filter id="pt" x="-10%" y="-10%" width="120%" height="120%" color-interpolation-filters="sRGB">
 <feTurbulence type="fractalNoise" baseFrequency="0.3" numOctaves="2" seed="4" result="n"/>
 <feColorMatrix in="n" type="matrix" values="0 0 0 0 0.88  0 0 0 0 0.86  0 0 0 0 0.94  2.0 0 0 0 -0.95" result="w"/>
 <feGaussianBlur in="SourceGraphic" stdDeviation="0.9" result="b"/>
 <feComposite in="w" in2="b" operator="atop" result="wb"/>
 <feMerge><feMergeNode in="b"/><feMergeNode in="wb"/></feMerge>
</filter>
<filter id="bl1" x="-30%" y="-30%" width="160%" height="160%"><feGaussianBlur stdDeviation="1.3"/></filter>
<filter id="bl2" x="-30%" y="-30%" width="160%" height="160%"><feGaussianBlur stdDeviation="0.8"/></filter>
<clipPath id="c1"><rect x="35.7" y="410.3" width="76" height="53.3"/></clipPath>
<clipPath id="c2"><rect x="113.7" y="410.3" width="75.5" height="53.3"/></clipPath>
<clipPath id="c3"><rect x="35.7" y="467.2" width="76" height="53.5"/></clipPath>
<clipPath id="c4"><rect x="113.7" y="467.2" width="75.5" height="53.5"/></clipPath>
</defs>
<g clip-path="url(#c1)">
<rect x="35.7" y="410.3" width="76" height="53.3" fill="#f1f4f8"/>
<rect x="35.7" y="410.3" width="76" height="53.3" filter="url(#tex)"/>
<ellipse cx="69.4" cy="432.3" rx="19.5" ry="11.5" transform="rotate(-47 69.4 432.3)" fill="#bed6e8" filter="url(#bl1)"/>
<ellipse cx="69.4" cy="432.3" rx="15.5" ry="7.6" transform="rotate(-47 69.4 432.3)" fill="#f6f9fc" filter="url(#bl2)"/>
</g>
<g clip-path="url(#c2)">
<rect x="113.7" y="410.3" width="75.5" height="53.3" fill="#f0f3f7"/>
<rect x="113.7" y="410.3" width="75.5" height="53.3" filter="url(#tex)"/>
<ellipse cx="123" cy="432" rx="8" ry="14" fill="#cfe3ec" opacity="0.5" filter="url(#bl1)"/>
<ellipse cx="144.1" cy="427.8" rx="12.5" ry="12" fill="#c4dee6" filter="url(#bl1)"/>
<g filter="url(#pt)" opacity="0.72">
<path d="M131,413.5 C127.5,418 128.5,426 130,432 C131,438 134,440.5 135.5,444 C135.5,450 137,456 140,459.5 C144,460.5 148,456 150,450 C152,446 153.5,442 152.5,437.5 C148,437.5 142,438 137,434.5 C133.8,430 133.8,424 135,419 C135.5,416 134,413.5 131,413.5 Z" fill="#8553a6"/>
<path d="M157,414.5 C155,418 156,424 157,430 C156,436 153,442 152,448 C151,454 151,459 152,464 L162.5,464 C164,458 167,452 170,447 C172.5,442 171.5,435 168.5,430 C166,426 165,421 163,417 C161,414 159,413.5 157,414.5 Z" fill="#8553a6"/>
</g>
<ellipse cx="139.7" cy="455" rx="1.8" ry="1.3" fill="#5a3a70" filter="url(#bl2)"/>
<ellipse cx="144.1" cy="427.8" rx="8.2" ry="8.5" fill="#f6fafb" filter="url(#bl2)"/>
</g>
<g clip-path="url(#c3)">
<rect x="35.7" y="467.2" width="76" height="53.5" fill="#f1f3f7"/>
<rect x="35.7" y="467.2" width="76" height="53.5" filter="url(#tex)"/>
<ellipse cx="64.6" cy="490.4" rx="19.5" ry="10" transform="rotate(-41 64.6 490.4)" fill="#eef3f8" stroke="#b3cde2" stroke-width="2.2" filter="url(#bl2)"/>
<ellipse cx="64.6" cy="490.4" rx="16.5" ry="7.2" transform="rotate(-41 64.6 490.4)" fill="#fafcfd" filter="url(#bl2)"/>
</g>
<g clip-path="url(#c4)">
<rect x="113.7" y="467.2" width="75.5" height="53.5" fill="#eff1f4"/>
<rect x="113.7" y="467.2" width="75.5" height="53.5" filter="url(#tex2)"/>
<ellipse cx="148.3" cy="487" rx="9.5" ry="12" fill="#bccad8" filter="url(#bl1)"/>
<g filter="url(#pt)" opacity="0.4">
<path d="M137,499 C135,506 137,512 138,521 L149,521 C149,514 150,508 153,502 C148,503 142,502 137,499 Z" fill="#8a8290"/>
<path d="M161,472 C158,478 160,485 158,491 C156,497 155,505 155,511 C155,515 156,518 157,521 L163,521 C166,514 172,508 175,502 C177,496 175,490 172,485 C168,480 165,475 161,472 Z" fill="#7d7d90"/>
<path d="M114,468 L125,468 C126,474 122,479 114,480 Z" fill="#80808f"/>
<path d="M134,472 C138,470 142,473 141,479 C139,483 134,481 134,472 Z" fill="#7a7a8c"/>
</g>
<ellipse cx="148.5" cy="487.7" rx="5.8" ry="7.6" fill="#fbfcfd" filter="url(#bl2)"/>
</g>
<rect x="35.7" y="410.3" width="76" height="53.3" fill="none" stroke="#3a3a3a" stroke-width="1.4"/>
<rect x="113.7" y="410.3" width="75.5" height="53.3" fill="none" stroke="#3a3a3a" stroke-width="1.4"/>
<rect x="35.7" y="467.2" width="76" height="53.5" fill="none" stroke="#3a3a3a" stroke-width="1.4"/>
<rect x="113.7" y="467.2" width="75.5" height="53.5" fill="none" stroke="#3a3a3a" stroke-width="1.4"/>
</svg>
<div class="frame"></div>
</body></html>
